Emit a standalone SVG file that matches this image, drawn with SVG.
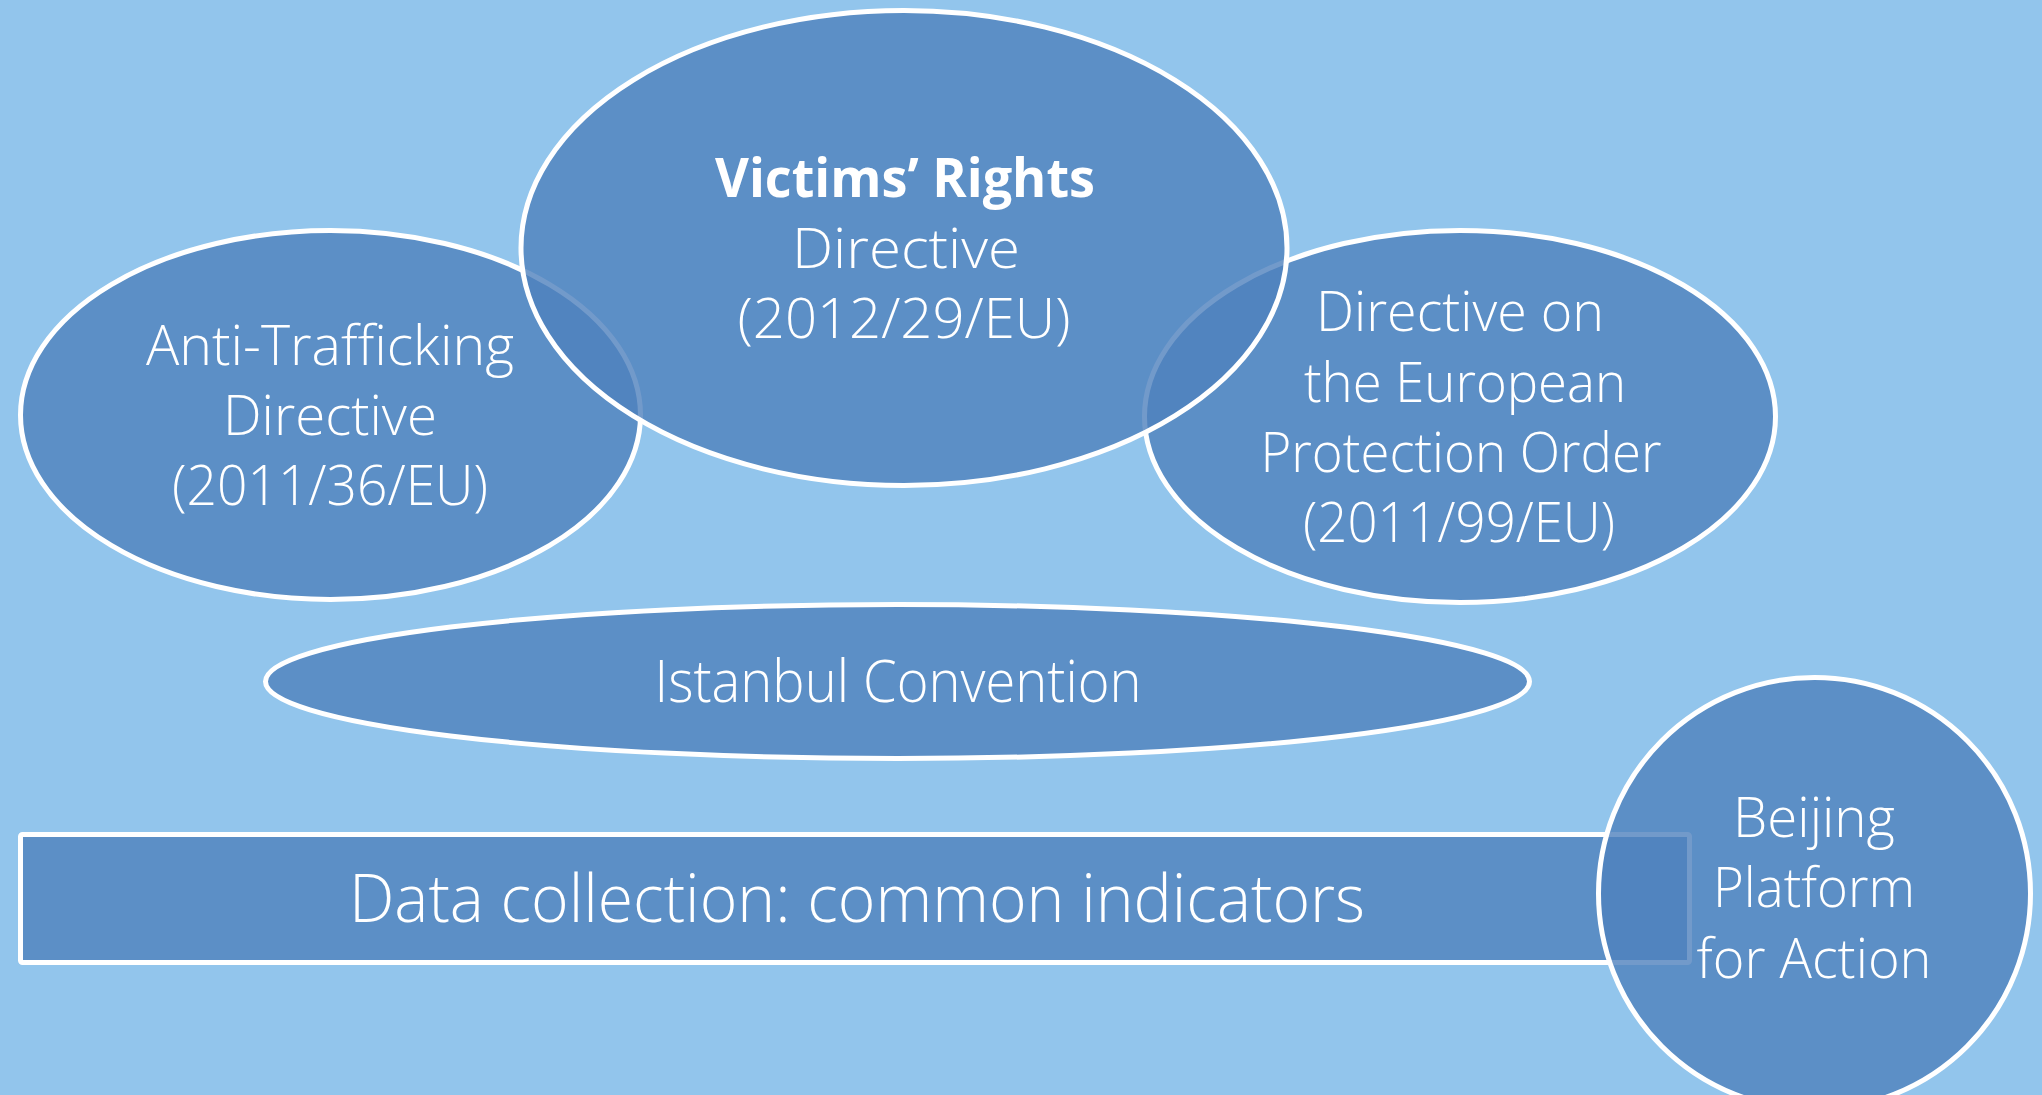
<svg xmlns="http://www.w3.org/2000/svg" width="2042" height="1095" viewBox="0 0 2042 1095">
  <style>
    .shape { fill: #4F81BD; fill-opacity: 0.8; stroke: #FFFFFF; stroke-width: 5; }
    .lbl { fill: #FFFFFF; font-family: "Open Sans", "Segoe UI", "Liberation Sans", sans-serif; font-weight: 300; text-anchor: middle; }
    .bold { font-weight: 700; }
  </style>
  <rect x="0" y="0" width="2042" height="1095" fill="#92C5EC"/>
  <g id="connectors"></g>
  <g id="node-anti-trafficking">
    <ellipse class="shape" cx="330.5" cy="415" rx="310" ry="184.5"/>
    <text class="lbl" font-size="56" x="330" y="365" textLength="368" lengthAdjust="spacingAndGlyphs">Anti-Trafficking</text>
    <text class="lbl" font-size="56" x="330" y="435" textLength="214" lengthAdjust="spacingAndGlyphs">Directive</text>
    <text class="lbl" font-size="56" x="330" y="505" textLength="316" lengthAdjust="spacingAndGlyphs">(2011/36/EU)</text>
  </g>
  <g id="node-epo">
    <ellipse class="shape" cx="1460" cy="416.5" rx="315.5" ry="186"/>
    <text class="lbl" font-size="56" x="1460" y="331" textLength="288" lengthAdjust="spacingAndGlyphs">Directive on</text>
    <text class="lbl" font-size="56" x="1465" y="402" textLength="322" lengthAdjust="spacingAndGlyphs">the European</text>
    <text class="lbl" font-size="56" x="1461" y="472" textLength="401" lengthAdjust="spacingAndGlyphs">Protection Order</text>
    <text class="lbl" font-size="56" x="1459" y="542" textLength="312" lengthAdjust="spacingAndGlyphs">(2011/99/EU)</text>
  </g>
  <g id="node-victims-rights">
    <ellipse class="shape" cx="904" cy="248" rx="383" ry="237.5"/>
    <text class="lbl bold" font-size="53" x="905" y="197" textLength="380" lengthAdjust="spacingAndGlyphs">Victims’ Rights</text>
    <text class="lbl" font-size="56" x="906" y="268" textLength="228" lengthAdjust="spacingAndGlyphs">Directive</text>
    <text class="lbl" font-size="56" x="904" y="338" textLength="333" lengthAdjust="spacingAndGlyphs">(2012/29/EU)</text>
  </g>
  <g id="node-istanbul">
    <ellipse class="shape" cx="897.5" cy="681.5" rx="632" ry="77"/>
    <text class="lbl" font-size="58" x="898" y="702" textLength="487" lengthAdjust="spacingAndGlyphs">Istanbul Convention</text>
  </g>
  <g id="node-data-collection">
    <rect class="shape" x="20.5" y="834.5" width="1669" height="128" rx="2"/>
    <text class="lbl" font-size="67" x="857" y="922" textLength="1016" lengthAdjust="spacingAndGlyphs">Data collection: common indicators</text>
  </g>
  <g id="node-beijing">
    <circle class="shape" cx="1814.5" cy="893.5" r="216"/>
    <text class="lbl" font-size="56" x="1814" y="837" textLength="162" lengthAdjust="spacingAndGlyphs">Beijing</text>
    <text class="lbl" font-size="56" x="1814" y="907" textLength="202" lengthAdjust="spacingAndGlyphs">Platform</text>
    <text class="lbl" font-size="56" x="1814" y="978" textLength="235" lengthAdjust="spacingAndGlyphs">for Action</text>
  </g>
</svg>
